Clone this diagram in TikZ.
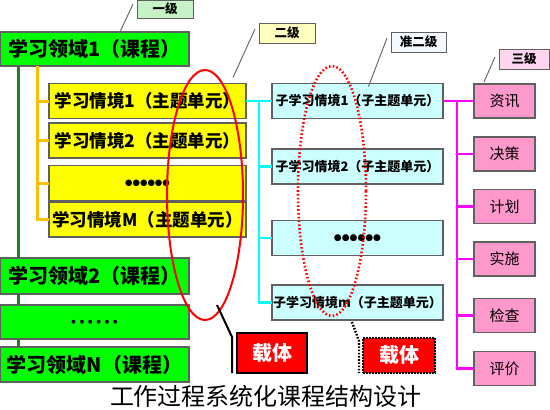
\documentclass[tikz,border=0pt]{standalone}
\usepackage{fontspec}
\newfontfamily\cjk{Noto Sans CJK SC}
\newfontfamily\djv{DejaVu Sans}
\usetikzlibrary{shapes.geometric}
\definecolor{lgreen}{HTML}{00FF00}
\definecolor{dkgreen}{HTML}{1E7F1E}
\definecolor{orline}{HTML}{FFC000}
\definecolor{ybox}{HTML}{FFFF00}
\definecolor{cbox}{HTML}{CCFFFF}
\definecolor{cline}{HTML}{00FFFF}
\definecolor{mline}{HTML}{FF00FF}
\definecolor{pbox}{HTML}{FF99CC}
\definecolor{boxgray}{HTML}{606060}
\definecolor{labA}{HTML}{C6F2C6}
\definecolor{labB}{HTML}{FFFFC0}
\definecolor{labC}{HTML}{F4F8FF}
\definecolor{labD}{HTML}{FFD6EE}
\begin{document}
\begin{tikzpicture}[x=1pt,y=-1pt,
  box/.style={draw=boxgray, line width=1.2pt, inner sep=0pt, outer sep=0pt, align=center},
  gbox/.style={box, fill=lgreen, minimum width=189pt, font=\cjk\bfseries\fontsize{20}{20}\selectfont},
  ybx/.style={box, fill=ybox, minimum width=197pt, minimum height=35pt, font=\cjk\bfseries\fontsize{17.5}{18}\selectfont},
  cbx/.style={box, fill=cbox, minimum width=171pt, minimum height=35pt, font=\cjk\bfseries\fontsize{13}{13}\selectfont},
  pbx/.style={box, fill=pbox, minimum width=61pt, minimum height=34pt, font=\cjk\fontsize{15}{15}\selectfont},
  lab/.style={box, line width=1pt, minimum height=20pt, font=\cjk\bfseries\fontsize{12.5}{12}\selectfont},
  leader/.style={draw=boxgray, line width=0.9pt},
  dkline/.style={draw=dkgreen, line width=3pt},
  orl/.style={draw=orline, line width=3pt},
  cyl/.style={draw=cline, line width=2.6pt},
  mgl/.style={draw=mline, line width=2.6pt},
  carrier/.style={inner sep=0pt, outer sep=0pt, fill=red, text=white, font=\cjk\bfseries\fontsize{20}{20}\selectfont}
]
\useasboundingbox (0,0) rectangle (550,410);

% green column
\node[gbox, minimum height=34pt] (g1) at (94.5,49) {学习领域1（课程）};
\node[gbox, minimum height=36pt] (g2) at (94.5,276) {学习领域2（课程）};
\node[gbox, minimum height=34pt, font=\djv\fontsize{5}{5}\selectfont] (gd) at (94.5,322) {●\hspace{4pt}●\hspace{4pt}●\hspace{4pt}●\hspace{4pt}●\hspace{4pt}●};
\node[gbox, minimum height=35pt] (gN) at (94.5,364.5) {学习领域N（课程）};

% yellow column
\node[ybx] (y1) at (147.5,101) {学习情境1（主题单元）};
\node[ybx] (y2) at (147.5,140.5) {学习情境2（主题单元）};
\node[ybx, font=\djv\fontsize{8.5}{8}\selectfont] (y3) at (147.5,183) {●●●●●●};
\node[ybx] (y4) at (147.5,219.5) {学习情境M（主题单元）};

% cyan column
\node[cbx] (c1) at (357.5,101) {子学习情境1（子主题单元）};
\node[cbx] (c2) at (357.5,166.5) {子学习情境2（子主题单元）};
\node[cbx, font=\djv\fontsize{9}{8}\selectfont] (c3) at (357.5,238) {●●●●●●};
\node[cbx] (c4) at (357.5,302.5) {子学习情境m（子主题单元）};

% pink column
\node[pbx] (p1) at (504.5,101) {资讯};
\node[pbx] (p2) at (504.5,154) {决策};
\node[pbx] (p3) at (504.5,206.5) {计划};
\node[pbx] (p4) at (504.5,259) {实施};
\node[pbx] (p5) at (504.5,315.5) {检查};
\node[pbx] (p6) at (504.5,368.5) {评价};

% level labels
\node[lab, fill=labA, minimum width=56pt, minimum height=18pt] (l1) at (165,9) {一级};
\node[lab, fill=labB, minimum width=56pt] (l2) at (287,33) {二级};
\node[lab, fill=labC, minimum width=55pt] (l3) at (418.5,42) {准二级};
\node[lab, fill=labD, minimum width=50pt] (l4) at (524,59) {三级};

\draw[leader] ([xshift=120pt]g1.north west) -- ([xshift=-4pt,yshift=5pt]l1.west);
\draw[leader] ([xshift=-13pt,yshift=6pt]y1.north east) -- ([xshift=-4pt,yshift=4pt]l2.west);
\draw[leader] ([xshift=11pt,yshift=-3pt]c1.north) -- ([xshift=-4pt,yshift=4pt]l3.west);
\draw[leader] ([xshift=10pt,yshift=2pt]p1.north west) -- ([xshift=-4pt,yshift=2pt]l4.west);

% green trunk
\coordinate (ts) at ([xshift=18pt]g1.south west);
\draw[dkline] (ts) -- (ts |- g2.north);
\draw[dkline] (ts |- g2.south) -- (ts |- gd.north);
\draw[dkline] (ts |- gd.south) -- (ts |- gN.north);

% orange tree
\coordinate (os) at ([xshift=37pt]g1.south west);
\draw[orl] (os) |- (y4.west);
\foreach \n in {y1,y2,y3} \draw[orl] (os |- \n.west) -- (\n.west);

% cyan tree
\draw[cyl] (y1.east) -- (c1.west);
\coordinate (cs) at (259,101);
\draw[cyl] (cs) |- (c4.west);
\foreach \n in {c2,c3} \draw[cyl] (cs |- \n.west) -- (\n.west);

% magenta tree
\draw[mgl] (c1.east) -- (p1.west);
\coordinate (ms) at (457,101);
\draw[mgl] (ms) |- (p6.west);
\foreach \n in {p2,p3,p4,p5} \draw[mgl] (ms |- \n.west) -- (\n.west);

% ellipses
\node[ellipse, draw=red, line width=2pt, minimum width=76pt, minimum height=250pt, inner sep=0pt] (e1) at (205,195) {};
\node[ellipse, draw=red, line width=2.6pt, dash pattern=on 1.6pt off 2.2pt, minimum width=68pt, minimum height=250pt, inner sep=0pt] (e2) at (332,191) {};

% carriers
\node[carrier, draw=black, line width=2.5pt, minimum width=70pt, minimum height=40pt] (k1) at (272,353) {载体};
\node[carrier, draw=black, line width=2.5pt, dash pattern=on 1.6pt off 1.4pt, minimum width=72pt, minimum height=35pt] (k2) at (399,355.5) {载体};

\coordinate (a1) at (217,305);
\coordinate (a2) at (352,322);
\draw[black, line width=2pt] (a1) -- ([xshift=-5pt,yshift=-4pt]k1.north west) -- ([xshift=-5pt]k1.south west);
\draw[black, line width=2.4pt, dash pattern=on 1.6pt off 1.6pt] (a2) -- ([xshift=-4pt,yshift=-3pt]k2.north west) -- ([xshift=-4pt]k2.south west);

% title
\node[font=\cjk\fontsize{24}{24}\selectfont, inner sep=0pt] (title) at (266,396) {工作过程系统化课程结构设计};
\end{tikzpicture}
\end{document}
